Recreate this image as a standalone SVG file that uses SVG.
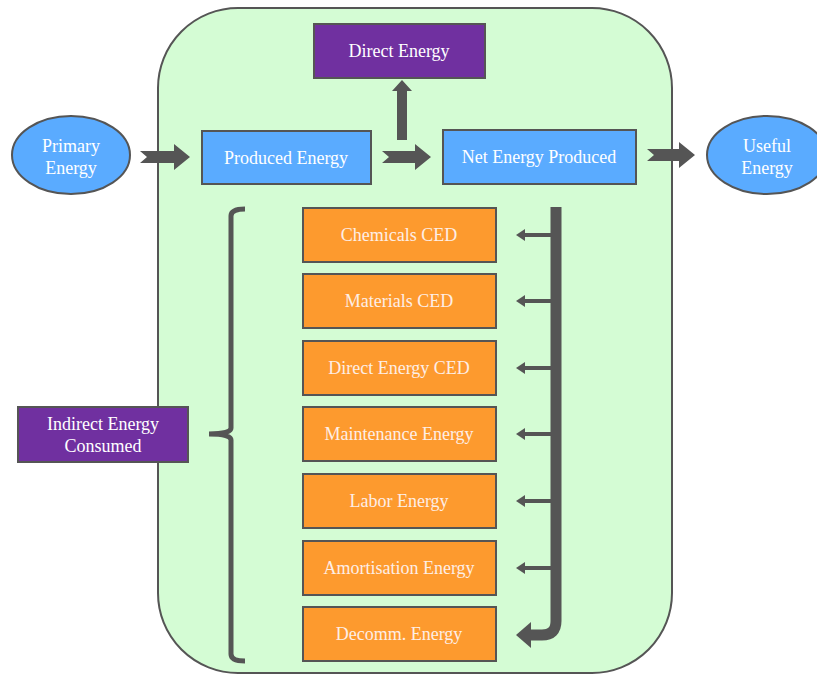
<svg xmlns="http://www.w3.org/2000/svg" width="817" height="675" viewBox="0 0 817 675">
<style>
text{font-family:'Liberation Serif','DejaVu Serif','Times New Roman',serif;font-size:18px;fill:#fff;text-anchor:middle}
.to{fill:#fdeee6}
.blue{fill:#5aabff;stroke:#555;stroke-width:2}
.pur{fill:#7030a0;stroke:#555;stroke-width:2}
.org{fill:#fd9a2e;stroke:#555;stroke-width:2}
.arr{fill:#555}
</style>
<rect x="0" y="0" width="817" height="675" fill="#fff"/>
<g id="container"><rect x="158" y="8" width="514" height="665" rx="80" ry="80" fill="#d4fcd4" stroke="#555" stroke-width="2"/></g>
<g id="connectors">
<path class="arr" d="M140,151 L174,151 L174,144 L190,157 L174,170 L174,163 L140,163 L147,157 Z"/>
<path class="arr" d="M382,151 L415,151 L415,144 L431,157 L415,170 L415,163 L382,163 L389,157 Z"/>
<path class="arr" d="M647,149 L679,149 L679,142 L695,155 L679,168 L679,161 L647,161 L654,155 Z"/>
<path class="arr" d="M397,140 L397,91 L392,91 L402,80 L412,91 L407,91 L407,140 Z"/>
<path d="M556,207 V621 Q556,635 542,635 H528" fill="none" stroke="#555" stroke-width="11"/>
<polygon class="arr" points="516,635 531,622 531,648"/>
<g stroke="#555" stroke-width="4">
<line x1="552" y1="235" x2="522" y2="235"/>
<line x1="552" y1="301" x2="522" y2="301"/>
<line x1="552" y1="368" x2="522" y2="368"/>
<line x1="552" y1="434" x2="522" y2="434"/>
<line x1="552" y1="501" x2="522" y2="501"/>
<line x1="552" y1="568" x2="522" y2="568"/>
</g>
<g class="arr">
<polygon points="516,235 525,229 525,241"/>
<polygon points="516,301 525,295 525,307"/>
<polygon points="516,368 525,362 525,374"/>
<polygon points="516,434 525,428 525,440"/>
<polygon points="516,501 525,495 525,507"/>
<polygon points="516,568 525,562 525,574"/>
</g>
<path d="M245,209 Q231,209 231,216 V428 Q231,434 209,434 Q231,434 231,440 V654 Q231,661 245,661" fill="none" stroke="#555" stroke-width="5"/>
</g>
<g id="primary"><ellipse class="blue" cx="71" cy="155" rx="59" ry="39"/><text x="71" y="152">Primary</text><text x="71" y="174">Energy</text></g>
<g id="useful"><ellipse class="blue" cx="767" cy="155" rx="60" ry="39"/><text x="767" y="152">Useful</text><text x="767" y="174">Energy</text></g>
<g id="direct"><rect class="pur" x="314" y="24" width="171" height="54"/><text x="399" y="57">Direct Energy</text></g>
<g id="produced"><rect class="blue" x="202" y="131" width="169" height="53"/><text x="286" y="164">Produced Energy</text></g>
<g id="net"><rect class="blue" x="443" y="130" width="193" height="54"/><text x="539" y="163">Net Energy Produced</text></g>
<g id="indirect"><rect class="pur" x="18" y="407" width="170" height="55"/><text x="103" y="430">Indirect Energy</text><text x="103" y="452">Consumed</text></g>
<g id="chemicals"><rect class="org" x="303" y="208" width="193" height="54"/><text class="to" x="399" y="241">Chemicals CED</text></g>
<g id="materials"><rect class="org" x="303" y="274" width="193" height="54"/><text class="to" x="399" y="307">Materials CED</text></g>
<g id="directced"><rect class="org" x="303" y="341" width="193" height="54"/><text class="to" x="399" y="374">Direct Energy CED</text></g>
<g id="maintenance"><rect class="org" x="303" y="407" width="193" height="54"/><text class="to" x="399" y="440">Maintenance Energy</text></g>
<g id="labor"><rect class="org" x="303" y="474" width="193" height="54"/><text class="to" x="399" y="507">Labor Energy</text></g>
<g id="amortisation"><rect class="org" x="303" y="541" width="193" height="54"/><text class="to" x="399" y="574">Amortisation Energy</text></g>
<g id="decomm"><rect class="org" x="303" y="607" width="193" height="54"/><text class="to" x="399" y="640">Decomm. Energy</text></g>
</svg>
